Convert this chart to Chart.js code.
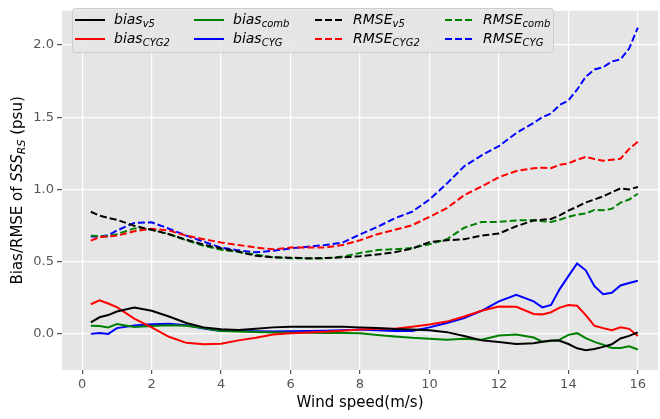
<!DOCTYPE html>
<html lang="en">
<head>
    <meta charset="UTF-8">
    <title>Bias/RMSE vs wind speed</title>
    <style>
        body {
            margin: 0;
            padding: 0;
            background: white;
        }
        .chart-box {
            width: 660px;
            height: 419px;
        }
    </style>
</head>
<body>
    <div class="chart-box">
        <canvas id="chart"></canvas>
    </div>

    <script src="https://cdn.jsdelivr.net/npm/chart.js"></script>
    <script>
        // wind speed bins (m/s)
        const windSpeed = [0.25, 0.5, 0.75, 1.0, 1.5, 2.0, 2.5, 3.0, 3.5, 4.0, 4.5, 5.0, 5.5, 6.0, 6.5, 7.0, 7.5, 8.0,
            8.5, 9.0, 9.5, 10.0, 10.5, 11.0, 11.5, 12.0, 12.5, 13.0, 13.25, 13.5, 13.75, 14.0, 14.25, 14.5, 14.75,
            15.0, 15.25, 15.5, 15.75, 16.0];

        const biasV5 = [0.08, 0.115, 0.13, 0.155, 0.182, 0.16, 0.12, 0.075, 0.045, 0.032, 0.027, 0.035, 0.045, 0.05,
            0.05, 0.05, 0.05, 0.045, 0.04, 0.033, 0.03, 0.025, 0.012, -0.015, -0.045, -0.057, -0.07, -0.065, -0.055,
            -0.045, -0.048, -0.07, -0.1, -0.113, -0.105, -0.09, -0.072, -0.032, -0.014, 0.01];
        const biasCYG2 = [0.205, 0.232, 0.21, 0.185, 0.105, 0.045, -0.02, -0.062, -0.072, -0.068, -0.045, -0.027,
            -0.005, 0.005, 0.01, 0.015, 0.022, 0.03, 0.036, 0.036, 0.05, 0.065, 0.085, 0.12, 0.16, 0.19, 0.188, 0.138,
            0.135, 0.15, 0.182, 0.2, 0.195, 0.13, 0.056, 0.04, 0.025, 0.045, 0.035, -0.015];
        const biasComb = [0.056, 0.054, 0.045, 0.068, 0.048, 0.054, 0.06, 0.057, 0.04, 0.02, 0.017, 0.013, 0.01,
            0.008, 0.007, 0.006, 0.006, 0.005, -0.007, -0.018, -0.027, -0.033, -0.04, -0.033, -0.04, -0.012, -0.004,
            -0.025, -0.054, -0.05, -0.04, -0.007, 0.005, -0.03, -0.055, -0.075, -0.097, -0.097, -0.086, -0.108];
        const biasCYG = [0.0, 0.006, 0.0, 0.04, 0.058, 0.066, 0.07, 0.06, 0.037, 0.02, 0.02, 0.018, 0.016, 0.018,
            0.02, 0.022, 0.025, 0.03, 0.025, 0.02, 0.02, 0.045, 0.075, 0.11, 0.16, 0.225, 0.27, 0.225, 0.183, 0.2,
            0.31, 0.4, 0.488, 0.44, 0.33, 0.275, 0.285, 0.335, 0.352, 0.368];

        const rmseV5 = [0.845, 0.818, 0.803, 0.79, 0.748, 0.72, 0.69, 0.652, 0.617, 0.592, 0.57, 0.54, 0.53, 0.527,
            0.523, 0.525, 0.53, 0.537, 0.55, 0.565, 0.59, 0.635, 0.648, 0.655, 0.68, 0.695, 0.745, 0.785, 0.79, 0.795,
            0.82, 0.853, 0.88, 0.91, 0.93, 0.952, 0.98, 1.007, 1.0, 1.016];
        const rmseCYG2 = [0.645, 0.67, 0.674, 0.68, 0.71, 0.728, 0.715, 0.68, 0.655, 0.632, 0.615, 0.598, 0.585,
            0.597, 0.598, 0.598, 0.615, 0.648, 0.69, 0.72, 0.752, 0.81, 0.87, 0.96, 1.02, 1.085, 1.127, 1.147, 1.15,
            1.147, 1.17, 1.18, 1.205, 1.225, 1.21, 1.198, 1.205, 1.212, 1.28, 1.33];
        const rmseComb = [0.68, 0.676, 0.674, 0.69, 0.73, 0.722, 0.69, 0.647, 0.61, 0.582, 0.567, 0.548, 0.53,
            0.524, 0.522, 0.522, 0.535, 0.56, 0.58, 0.586, 0.595, 0.62, 0.655, 0.735, 0.775, 0.775, 0.785, 0.788,
            0.78, 0.775, 0.79, 0.81, 0.825, 0.833, 0.858, 0.855, 0.865, 0.908, 0.93, 0.97];
        const rmseCYG = [0.674, 0.675, 0.682, 0.715, 0.768, 0.772, 0.728, 0.68, 0.638, 0.597, 0.578, 0.565, 0.575,
            0.592, 0.603, 0.615, 0.632, 0.688, 0.74, 0.8, 0.845, 0.93, 1.04, 1.16, 1.235, 1.3, 1.39, 1.46, 1.5,
            1.525, 1.585, 1.615, 1.69, 1.78, 1.83, 1.845, 1.885, 1.9, 1.975, 2.12];

        const xTicks = [0, 2, 4, 6, 8, 10, 12, 14, 16];
        const yTicks = [0.0, 0.5, 1.0, 1.5, 2.0];

        const FONT = "'DejaVu Sans', sans-serif";

        // legend is laid out column by column like matplotlib with ncol=4
        const series = [
            { name: 'bias', sub: 'v5', data: biasV5, color: '#000000', dash: [] },
            { name: 'bias', sub: 'CYG2', data: biasCYG2, color: '#ff0000', dash: [] },
            { name: 'bias', sub: 'comb', data: biasComb, color: '#008000', dash: [] },
            { name: 'bias', sub: 'CYG', data: biasCYG, color: '#0000ff', dash: [] },
            { name: 'RMSE', sub: 'v5', data: rmseV5, color: '#000000', dash: [7, 3] },
            { name: 'RMSE', sub: 'CYG2', data: rmseCYG2, color: '#ff0000', dash: [7, 3] },
            { name: 'RMSE', sub: 'comb', data: rmseComb, color: '#008000', dash: [7, 3] },
            { name: 'RMSE', sub: 'CYG', data: rmseCYG, color: '#0000ff', dash: [7, 3] }
        ];

        const datasets = series.map(s => ({
            label: s.name + '_' + s.sub,
            data: s.data.map((v, i) => ({ x: windSpeed[i], y: v })),
            borderColor: s.color,
            borderWidth: 2,
            borderDash: s.dash,
            pointRadius: 0,
            tension: 0,
            fill: false
        }));

        // grey panel behind the plot
        const panelBg = {
            id: 'panelBg',
            beforeDraw(chart) {
                const { ctx, chartArea: a } = chart;
                ctx.save();
                ctx.fillStyle = '#ffffff';
                ctx.fillRect(0, 0, chart.width, chart.height);
                ctx.fillStyle = '#e5e5e5';
                ctx.fillRect(a.left, a.top, a.right - a.left, a.bottom - a.top);
                ctx.restore();
            }
        };

        // text with a subscript, returns width
        function subText(ctx, x, y, main, sub, style, size, draw) {
            ctx.font = style + ' ' + size + 'px ' + FONT;
            const w1 = ctx.measureText(main).width;
            ctx.font = style + ' ' + Math.round(size * 0.7) + 'px ' + FONT;
            const w2 = ctx.measureText(sub).width;
            if (draw) {
                ctx.font = style + ' ' + size + 'px ' + FONT;
                ctx.fillText(main, x, y);
                ctx.font = style + ' ' + Math.round(size * 0.7) + 'px ' + FONT;
                ctx.fillText(sub, x + w1, y + size * 0.28);
            }
            return w1 + w2;
        }

        const legendAndTitles = {
            id: 'legendAndTitles',
            afterDraw(chart) {
                const ctx = chart.ctx;
                const a = chart.chartArea;
                ctx.save();

                // legend box
                ctx.fillStyle = 'rgba(229,229,229,0.8)';
                ctx.strokeStyle = '#cccccc';
                ctx.lineWidth = 1;
                ctx.beginPath();
                ctx.roundRect(72.5, 8.5, 481, 44, 3);
                ctx.fill();
                ctx.stroke();

                const lineX = [75, 194, 315, 445];
                const textX = [114, 233, 353, 483];
                const rowY = [20, 39];
                ctx.textBaseline = 'middle';
                ctx.textAlign = 'left';
                series.forEach((s, i) => {
                    const col = Math.floor(i / 2);
                    const row = i % 2;
                    const y = rowY[row];
                    ctx.strokeStyle = s.color;
                    ctx.lineWidth = 2;
                    ctx.setLineDash(s.dash);
                    ctx.beginPath();
                    ctx.moveTo(lineX[col], y);
                    ctx.lineTo(lineX[col] + 30, y);
                    ctx.stroke();
                    ctx.setLineDash([]);
                    ctx.fillStyle = '#000000';
                    subText(ctx, textX[col], y, s.name, s.sub, 'italic', 14, true);
                });

                // x axis title
                ctx.fillStyle = '#000000';
                ctx.textAlign = 'center';
                ctx.textBaseline = 'middle';
                ctx.font = '15px ' + FONT;
                ctx.fillText('Wind speed(m/s)', (a.left + a.right) / 2, 403);

                // y axis title, rotated
                ctx.translate(18, (a.top + a.bottom) / 2);
                ctx.rotate(-Math.PI / 2);
                ctx.textAlign = 'left';
                const p1 = 'Bias/RMSE of ';
                const p3 = ' (psu)';
                ctx.font = '15px ' + FONT;
                const w1 = ctx.measureText(p1).width;
                const w3 = ctx.measureText(p3).width;
                const w2 = subText(ctx, 0, 0, 'SSS', 'RS', 'italic', 15, false);
                let x = -(w1 + w2 + w3) / 2;
                ctx.font = '15px ' + FONT;
                ctx.fillText(p1, x, 0);
                x += w1;
                subText(ctx, x, 0, 'SSS', 'RS', 'italic', 15, true);
                x += w2;
                ctx.font = '15px ' + FONT;
                ctx.fillText(p3, x, 0);

                ctx.restore();
            }
        };

        new Chart(document.getElementById('chart'), {
            type: 'line',
            data: { datasets: datasets },
            options: {
                responsive: true,
                maintainAspectRatio: false,
                animation: false,
                layout: { padding: { top: 2, right: 2, left: 0, bottom: 0 } },
                plugins: {
                    legend: { display: false },
                    tooltip: { enabled: false }
                },
                scales: {
                    x: {
                        type: 'linear',
                        min: -0.58,
                        max: 16.58,
                        afterFit: s => { s.height = 49; },
                        afterBuildTicks: s => { s.ticks = xTicks.map(v => ({ value: v })); },
                        ticks: {
                            font: { family: FONT, size: 13 },
                            color: '#555555',
                            padding: 3,
                            maxRotation: 0,
                            callback: v => String(v)
                        },
                        grid: { color: '#ffffff', lineWidth: 1.2, tickColor: '#555555', tickLength: 4 },
                        border: { display: false }
                    },
                    y: {
                        type: 'linear',
                        min: -0.25,
                        max: 2.236,
                        afterFit: s => { s.width = 62; },
                        afterBuildTicks: s => { s.ticks = yTicks.map(v => ({ value: v })); },
                        ticks: {
                            font: { family: FONT, size: 13 },
                            color: '#555555',
                            padding: 3,
                            callback: v => v.toFixed(1)
                        },
                        grid: { color: '#ffffff', lineWidth: 1.2, tickColor: '#555555', tickLength: 5 },
                        border: { display: false }
                    }
                }
            },
            plugins: [panelBg, legendAndTitles]
        });
    </script>
</body>
</html>
